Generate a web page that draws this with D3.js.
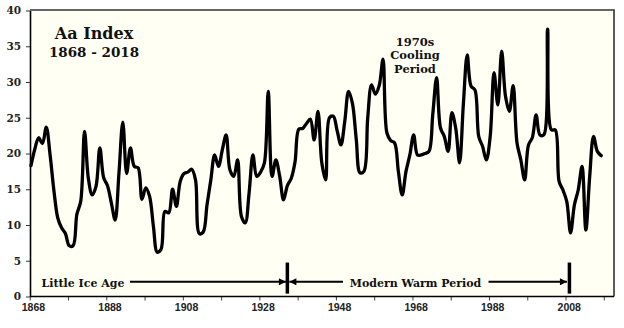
<!DOCTYPE html>
<html>
<head>
<meta charset="utf-8">
<script src="https://cdn.jsdelivr.net/npm/d3@7"></script>
<style>
  html, body { margin: 0; padding: 0; background: #ffffff; }
  svg { display: block; }
</style>
</head>
<body>
<script>
// ---- Data ----
const firstYear = 1868;
const aaValues = [
  18.3, 20.6, 22.2, 21.4, 23.7, 19.8, 14.8, 11.0, 9.6, 8.8,      // 1868-1877
  7.1, 7.1, 11.5, 13.3, 23.1, 16.5, 14.2, 15.4, 20.8, 16.6,      // 1878-1887
  15.5, 13.1, 10.7, 17.3, 24.4, 17.2, 20.8, 18.2, 18.0, 13.6,    // 1888-1897
  15.2, 14.0, 9.8, 6.2, 6.6, 11.9, 11.7, 15.0, 12.6, 16.1,       // 1898-1907
  17.2, 17.4, 17.8, 16.3, 8.8, 9.0, 12.8, 16.3, 19.8, 18.2,      // 1908-1917
  20.5, 22.6, 17.7, 16.8, 19.1, 11.2, 10.3, 14.5, 19.8, 16.8,    // 1918-1927
  17.4, 18.7, 28.7, 16.8, 19.1, 16.8, 13.5, 15.5, 16.5, 18.8,    // 1928-1937
  23.4, 23.5, 24.2, 24.8, 21.9, 25.9, 18.7, 16.3, 25.0, 25.2,    // 1938-1947
  23.2, 21.2, 24.5, 28.7, 27.0, 22.0, 17.3, 17.5, 25.0, 29.6,    // 1948-1957
  28.3, 29.5, 33.2, 22.9, 21.8, 21.5, 17.5, 14.2, 17.5, 19.8,    // 1958-1967
  22.6, 19.8, 19.8, 20.0, 20.3, 25.5, 30.6, 23.6, 22.4, 20.3,    // 1968-1977
  25.7, 23.5, 18.7, 27.0, 33.8, 29.4, 28.9, 22.4, 21.0, 19.1,    // 1978-1987
  22.4, 31.3, 26.8, 34.3, 28.0, 25.9, 29.5, 21.5, 19.1, 16.3,    // 1988-1997
  21.2, 22.2, 25.4, 22.6, 22.6, 37.4, 23.3, 23.3, 16.1, 14.9,    // 1998-2007
  13.3, 8.9, 12.8, 14.9, 18.2, 9.3, 16.8, 22.4, 20.3, 19.7       // 2008-2017
];
const years = aaValues.map((v, i) => firstYear + i);

const yTickValues = [0, 5, 10, 15, 20, 25, 30, 35, 40];
const xTickMarks = [1868, 1878, 1888, 1898, 1908, 1918, 1928, 1938, 1948, 1958, 1968, 1978, 1988, 1998, 2008, 2018];
const xTickLabels = [1868, 1888, 1908, 1928, 1948, 1968, 1988, 2008];

const titleLines = ["Aa Index", "1868 - 2018"];
const coolingLines = ["1970s", "Cooling", "Period"];
const periodNames = ["Little Ice Age", "Modern Warm Period"];
const periodBounds = [1935, 2008.7];

// ---- Layout ----
const W = 624, H = 328;
const plot = { left: 30, right: 614, top: 10, bottom: 296.5 };

const svg = d3.select("body").append("svg")
  .attr("width", W).attr("height", H);

svg.append("rect").attr("width", W).attr("height", H).attr("fill", "#ffffff");

const x = d3.scaleLinear().domain([1867.75, 2020.35]).range([plot.left, plot.right]);
const y = d3.scaleLinear().domain([0, 40]).range([plot.bottom, plot.top + 0.5]);

// plot background
svg.append("rect")
  .attr("x", plot.left).attr("y", plot.top)
  .attr("width", plot.right - plot.left).attr("height", plot.bottom - plot.top)
  .attr("fill", "#fffff3");

// border top & right
svg.append("path")
  .attr("d", `M${plot.left},${plot.top}H${plot.right}V${plot.bottom}`)
  .attr("fill", "none").attr("stroke", "#333").attr("stroke-width", 1.6);

// y axis
const yAxis = svg.append("g")
  .attr("transform", `translate(${plot.left},0)`)
  .call(d3.axisLeft(y).tickValues(yTickValues).tickSize(4).tickSizeOuter(0).tickPadding(5));
yAxis.select(".domain").attr("stroke", "#000").attr("stroke-width", 1.6);
yAxis.selectAll(".tick line").attr("stroke", "#333").attr("stroke-width", 1);
yAxis.selectAll(".tick text")
  .attr("font-family", "'DejaVu Serif', serif")
  .attr("font-weight", "bold").attr("font-size", 10.5).attr("fill", "#222");

// x axis tick marks
const xTicks = svg.append("g")
  .attr("transform", `translate(-1.2,${plot.bottom})`)
  .call(d3.axisBottom(x).tickValues(xTickMarks).tickSize(4).tickSizeOuter(0).tickFormat(""));
xTicks.select(".domain").remove();
xTicks.selectAll(".tick line").attr("stroke", "#444").attr("stroke-width", 1);

// x axis labels
const xLab = svg.append("g")
  .attr("transform", `translate(2,${plot.bottom})`)
  .call(d3.axisBottom(x).tickValues(xTickLabels).tickSize(0).tickPadding(7).tickFormat(d3.format("d")));
xLab.select(".domain").remove();
xLab.selectAll(".tick text")
  .attr("font-family", "'Liberation Sans', Arial, sans-serif")
  .attr("font-weight", "bold").attr("font-size", 10.5).attr("fill", "#222");

// bottom axis line
svg.append("line")
  .attr("x1", plot.left).attr("x2", plot.right)
  .attr("y1", plot.bottom).attr("y2", plot.bottom)
  .attr("stroke", "#000").attr("stroke-width", 1.6);

// data line
const line = d3.line()
  .x((d, i) => x(years[i]))
  .y(d => y(d))
  .curve(d3.curveCatmullRom.alpha(0.5));

svg.append("path")
  .datum(aaValues)
  .attr("d", line)
  .attr("fill", "none")
  .attr("stroke", "#000")
  .attr("stroke-width", 3.3)
  .attr("stroke-linejoin", "round")
  .attr("stroke-linecap", "round");

// ---- Annotations ----
const serif = "'DejaVu Serif', Georgia, serif";

svg.append("text")
  .attr("x", 94).attr("y", 39).attr("text-anchor", "middle")
  .attr("font-family", serif).attr("font-weight", "bold").attr("font-size", 16)
  .attr("fill", "#111").text(titleLines[0]);
svg.append("text")
  .attr("x", 94).attr("y", 57).attr("text-anchor", "middle")
  .attr("font-family", serif).attr("font-weight", "bold").attr("font-size", 13.5)
  .attr("fill", "#111").text(titleLines[1]);

coolingLines.forEach((t, i) => {
  svg.append("text")
    .attr("x", 415).attr("y", 45.5 + i * 13.5).attr("text-anchor", "middle")
    .attr("font-family", serif).attr("font-weight", "bold").attr("font-size", 11.5)
    .attr("fill", "#111").text(t);
});

const defs = svg.append("defs");
defs.append("marker")
  .attr("id", "arrow")
  .attr("viewBox", "0 0 10 10")
  .attr("refX", 10).attr("refY", 5)
  .attr("markerUnits", "userSpaceOnUse")
  .attr("markerWidth", 8).attr("markerHeight", 7)
  .attr("orient", "auto-start-reverse")
  .append("path").attr("d", "M0,0L10,5L0,10Z").attr("fill", "#000");

const arrowY = y(2.05);

// Little Ice Age text
svg.append("text")
  .attr("x", 83).attr("y", arrowY + 2.5).attr("text-anchor", "middle")
  .attr("dominant-baseline", "middle")
  .attr("font-family", serif).attr("font-weight", "bold").attr("font-size", 11)
  .attr("fill", "#111").text(periodNames[0]);
// Modern Warm Period text
svg.append("text")
  .attr("x", 415.5).attr("y", arrowY + 2.5).attr("text-anchor", "middle")
  .attr("dominant-baseline", "middle")
  .attr("font-family", serif).attr("font-weight", "bold").attr("font-size", 11)
  .attr("fill", "#111").text(periodNames[1]);

// arrows
svg.append("line")
  .attr("x1", 130).attr("x2", x(periodBounds[0]) - 1.5)
  .attr("y1", arrowY).attr("y2", arrowY)
  .attr("stroke", "#000").attr("stroke-width", 2)
  .attr("marker-end", "url(#arrow)");
svg.append("line")
  .attr("x1", x(periodBounds[0]) + 2).attr("x2", 343)
  .attr("y1", arrowY).attr("y2", arrowY)
  .attr("stroke", "#000").attr("stroke-width", 2)
  .attr("marker-start", "url(#arrow)");
svg.append("line")
  .attr("x1", 488.5).attr("x2", x(periodBounds[1]) - 2.5)
  .attr("y1", arrowY).attr("y2", arrowY)
  .attr("stroke", "#000").attr("stroke-width", 2)
  .attr("marker-end", "url(#arrow)");

// boundary bars
periodBounds.forEach(b => {
  svg.append("line")
    .attr("x1", x(b)).attr("x2", x(b))
    .attr("y1", y(4.75)).attr("y2", y(0.4))
    .attr("stroke", "#000").attr("stroke-width", 3.5);
});
</script>
</body>
</html>
